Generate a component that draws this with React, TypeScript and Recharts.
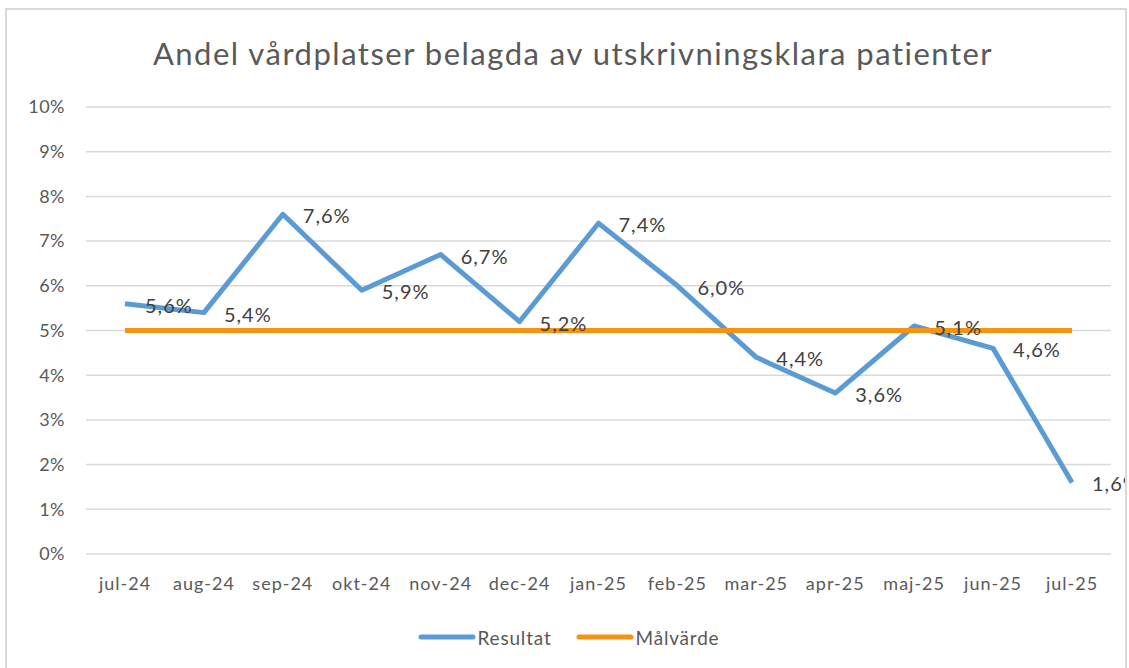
import React from "react";
import {
  ComposedChart,
  Line,
  XAxis,
  YAxis,
  CartesianGrid,
  Legend,
} from "recharts";

const MONTHS = [
  "jul-24",
  "aug-24",
  "sep-24",
  "okt-24",
  "nov-24",
  "dec-24",
  "jan-25",
  "feb-25",
  "mar-25",
  "apr-25",
  "maj-25",
  "jun-25",
  "jul-25",
];

const RESULTAT = [
  0.056, 0.054, 0.076, 0.059, 0.067, 0.052, 0.074, 0.06, 0.044, 0.036, 0.051,
  0.046, 0.016,
];

const MALVARDE = [
  0.05, 0.05, 0.05, 0.05, 0.05, 0.05, 0.05, 0.05, 0.05, 0.05, 0.05, 0.05, 0.05,
];

const Y_TICKS = [0, 0.01, 0.02, 0.03, 0.04, 0.05, 0.06, 0.07, 0.08, 0.09, 0.1];

const BLUE = "#5B9BD5";
const ORANGE = "#F39313";
const FONT = "Lato, 'Open Sans', sans-serif";

const data = MONTHS.map((m, i) => ({
  month: m,
  resultat: RESULTAT[i],
  malvarde: MALVARDE[i],
}));

const pct = (v: number) => `${Math.round(v * 100)}%`;
const pctComma = (v: number) => `${(v * 100).toFixed(1).replace(".", ",")}%`;

// label to the right of the point, like Excel's "right" label position
const renderLabel = (props: any) => {
  const { x, y, value } = props;
  return (
    <text
      x={x + 20}
      y={y + 1}
      dominantBaseline="central"
      fill="#404040"
      fontSize={20}
      letterSpacing={1}
      fontFamily={FONT}
    >
      {pctComma(value)}
    </text>
  );
};

const LegendContent = () => {
  const items = [
    { name: "Resultat", color: BLUE },
    { name: "Målvärde", color: ORANGE },
  ];
  return (
    <div
      style={{
        display: "flex",
        justifyContent: "center",
        alignItems: "center",
        gap: 24,
        fontFamily: FONT,
        fontSize: 19,
        letterSpacing: 0.8,
        color: "#595959",
        height: 50,
      }}
    >
      {items.map((it) => (
        <div key={it.name} style={{ display: "flex", alignItems: "center" }}>
          <svg width={58} height={10}>
            <line
              x1={3}
              y1={5}
              x2={55}
              y2={5}
              stroke={it.color}
              strokeWidth={5}
              strokeLinecap="round"
            />
          </svg>
          <span style={{ marginLeft: 2 }}>{it.name}</span>
        </div>
      ))}
    </div>
  );
};

export default function App() {
  return (
    <div
      style={{
        position: "absolute",
        left: 5,
        top: 8,
        width: 1118,
        height: 666,
        border: "2px solid #D9D9D9",
        background: "#fff",
      }}
    >
      <div
        style={{
          position: "absolute",
          top: 24,
          left: 0,
          width: 1132,
          textAlign: "center",
          fontFamily: FONT,
          fontSize: 31,
          color: "#595959",
          letterSpacing: 1.5,
        }}
      >
        Andel vårdplatser belagda av utskrivningsklara patienter
      </div>
      <ComposedChart
        width={1118}
        height={658}
        data={data}
        margin={{ top: 97, right: 14, left: 19, bottom: 6 }}
        style={{ overflow: "visible" }}
      >
        <CartesianGrid
          vertical={false}
          stroke="#D9D9D9"
          strokeWidth={1.5}
        />
        <XAxis
          dataKey="month"
          axisLine={false}
          tickLine={false}
          tickSize={0}
          tickMargin={23}
          height={58}
          interval={0}
          padding={{ left: 39, right: 39 }}
          tick={{
            fill: "#595959",
            fontSize: 18,
            fontFamily: FONT,
            letterSpacing: 1,
          }}
        />
        <YAxis
          domain={[0, 0.1]}
          ticks={Y_TICKS}
          tickFormatter={pct}
          axisLine={false}
          tickLine={false}
          tickSize={0}
          tickMargin={21}
          width={60}
          tick={{
            fill: "#595959",
            fontSize: 18,
            fontFamily: FONT,
            letterSpacing: 0.5,
          }}
        />
        <Legend
          verticalAlign="bottom"
          height={50}
          content={<LegendContent />}
        />
        <Line
          dataKey="resultat"
          name="Resultat"
          stroke={BLUE}
          strokeWidth={5}
          dot={false}
          activeDot={false}
          strokeLinejoin="round"
          isAnimationActive={false}
        />
        <Line
          dataKey="malvarde"
          name="Målvärde"
          stroke={ORANGE}
          strokeWidth={5}
          dot={false}
          activeDot={false}
          isAnimationActive={false}
        />
        <Line
          dataKey="resultat"
          name="labels"
          stroke="none"
          dot={false}
          activeDot={false}
          legendType="none"
          label={renderLabel}
          isAnimationActive={false}
        />
      </ComposedChart>
    </div>
  );
}
